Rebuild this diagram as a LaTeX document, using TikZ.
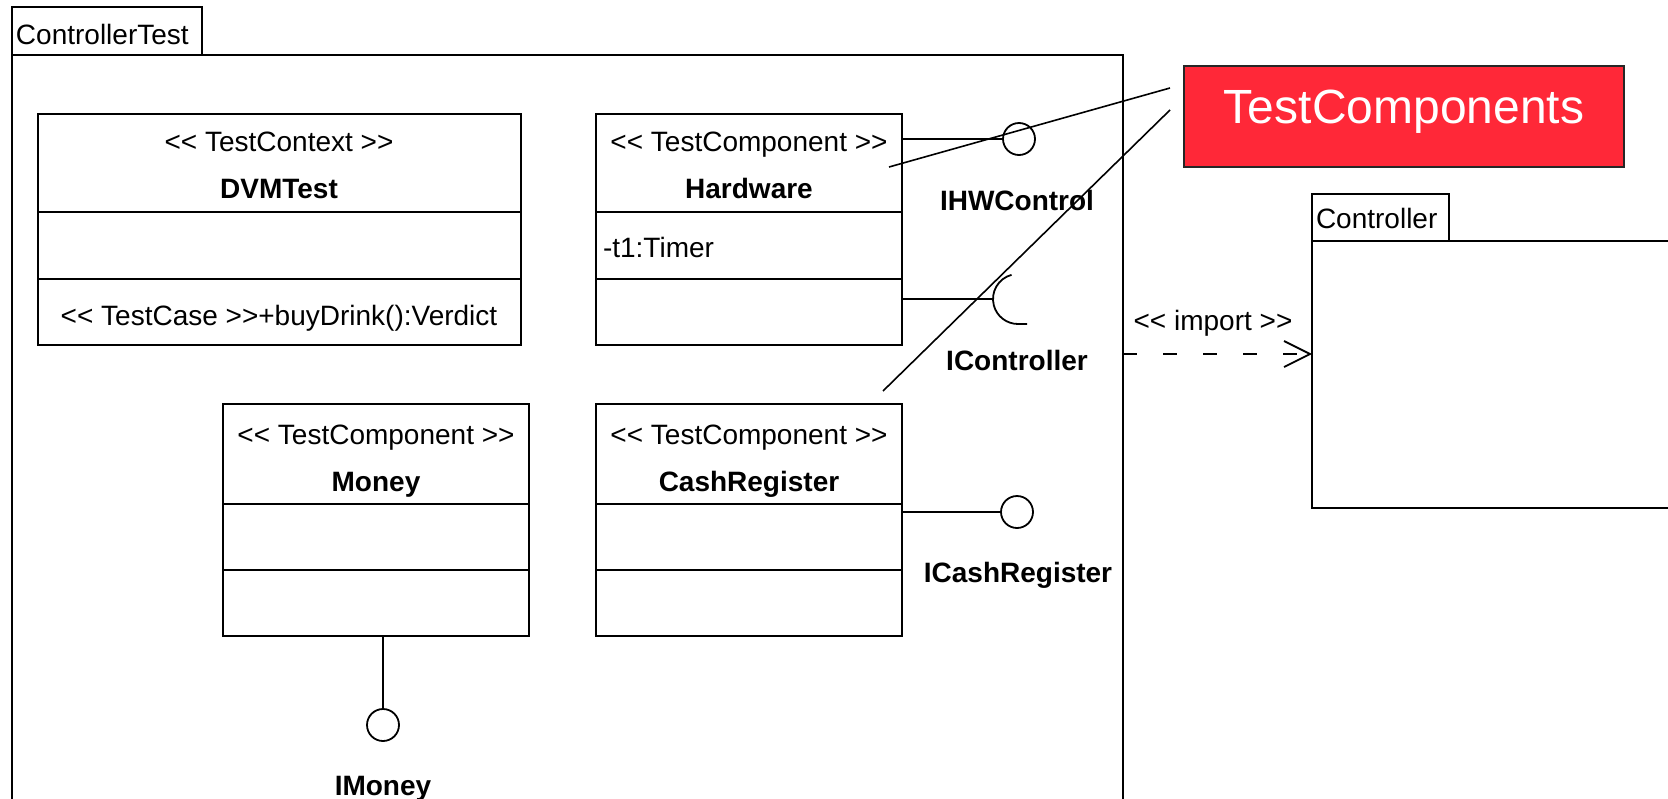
\documentclass[tikz,border=0pt]{standalone}
\usepackage{fontspec}
\setmainfont{Liberation Sans}
\usetikzlibrary{arrows.meta}
\definecolor{tcred}{RGB}{255,40,56}
\newcommand\umlopen{<\kern0pt<}
\newcommand\umlclose{>\kern0pt>}
\begin{document}
\begin{tikzpicture}[x=1pt,y=-1pt,
  every node/.style={inner sep=0pt, outer sep=0pt},
  txt/.style={font=\fontsize{28}{34}\selectfont, anchor=base},
  btxt/.style={font=\fontsize{28}{34}\selectfont\bfseries, anchor=base},
  classbox/.style={draw, line width=2pt, rectangle, anchor=north west},
  pkgline/.style={draw, line width=2pt},
  lolli/.style={draw, circle, line width=1.8pt, minimum size=32pt},
  conn/.style={line width=2pt},
  callout/.style={line width=1.6pt},
]
\useasboundingbox (0,0) rectangle (1668,798);
\clip (0,0) rectangle (1668,798);

% ControllerTest package
\node[classbox, minimum width=190, minimum height=48] (cttab) at (12,7) {};
\node[txt, anchor=base west] (cttabtxt) at (16,44) {ControllerTest};
\coordinate (ctbl) at (12,820);
\coordinate (cttl) at (12,55);
\coordinate (cttr) at (1123,55);
\coordinate (ctbr) at (1123,820);
\draw[pkgline] (ctbl) -- (cttl) -- (cttr) -- (ctbr);

% Controller package
\node[classbox, minimum width=137, minimum height=47] (ctrltab) at (1312,194) {};
\node[txt, anchor=base west] (ctrltabtxt) at (1316,228) {Controller};
\coordinate (crtr) at (1700,241);
\coordinate (crtl) at (1312,241);
\coordinate (crbl) at (1312,508);
\coordinate (crbr) at (1700,508);
\draw[pkgline] (crtr) -- (crtl) -- (crbl) -- (crbr);

% DVMTest
\node[classbox, minimum width=483, minimum height=231] (dvm) at (38,114) {};
\draw[conn] (dvm.west |- 0,212) -- (dvm.east |- 0,212);
\draw[conn] (dvm.west |- 0,279) -- (dvm.east |- 0,279);
\node[txt] (dvmst) at (279,151) {\umlopen{} TestContext \umlclose};
\node[btxt] (dvmname) at (279,198) {DVMTest};
\node[txt] (dvmop) at (279,325) {\umlopen{} TestCase \umlclose+buyDrink():Verdict};

% Hardware
\node[classbox, minimum width=306, minimum height=231] (hw) at (596,114) {};
\draw[conn] (hw.west |- 0,212) -- (hw.east |- 0,212);
\draw[conn] (hw.west |- 0,279) -- (hw.east |- 0,279);
\node[txt] (hwst) at (749,151) {\umlopen{} TestComponent \umlclose};
\node[btxt] (hwname) at (749,198) {Hardware};
\node[txt, anchor=base west] (hwattr) at (603,257) {-t1:Timer};

% Money
\node[classbox, minimum width=306, minimum height=232] (money) at (223,404) {};
\draw[conn] (money.west |- 0,504) -- (money.east |- 0,504);
\draw[conn] (money.west |- 0,570) -- (money.east |- 0,570);
\node[txt] (moneyst) at (376,444) {\umlopen{} TestComponent \umlclose};
\node[btxt] (moneyname) at (376,491) {Money};

% CashRegister
\node[classbox, minimum width=306, minimum height=232] (cash) at (596,404) {};
\draw[conn] (cash.west |- 0,504) -- (cash.east |- 0,504);
\draw[conn] (cash.west |- 0,570) -- (cash.east |- 0,570);
\node[txt] (cashst) at (749,444) {\umlopen{} TestComponent \umlclose};
\node[btxt] (cashname) at (749,491) {CashRegister};

% IHWControl
\node[lolli] (ihw) at (1019,139) {};
\draw[conn] (hw.east |- ihw) -- (ihw.west);
\node[btxt] (ihwl) at (1017,210) {IHWControl};

% IController (required interface)
\coordinate (sockc) at (1018,299);
\coordinate (sockl) at (993,299);
\draw[conn] (hw.east |- sockc) -- (sockl);
\draw[line width=1.8pt] (sockc) ++(105:25pt) arc[start angle=105, end angle=270, radius=25pt] -- ++(9pt,0pt);
\node[btxt] (ictrll) at (1017,370) {IController};

% ICashRegister
\node[lolli] (icash) at (1017,512) {};
\draw[conn] (cash.east |- icash) -- (icash.west);
\node[btxt] (icashl) at (1018,582) {ICashRegister};

% IMoney
\node[lolli] (imoney) at (383,725) {};
\draw[conn] (money.south -| imoney) -- (imoney.north);
\node[btxt] (imoneyl) at (383,795) {IMoney};

% import dependency
\coordinate (imps) at (1123,354);
\coordinate (impe) at (1312,354);
\draw[conn, dash pattern=on 14pt off 26pt, -{Straight Barb[length=26pt, width=26pt, line width=1.8pt]}] (imps) -- (impe);
\node[txt] (impl) at (1213,330) {\umlopen{} import \umlclose};

% TestComponents callout
\node[fill=tcred, draw=black!85, line width=1.6pt, minimum width=440, minimum height=101, anchor=north west] (tc) at (1184,66) {};
\node[font=\fontsize{48}{56}\selectfont, text=white, anchor=base] (tctxt) at (1404,123) {TestComponents};
\coordinate (co1s) at (889,167);
\coordinate (co1e) at (1170,88);
\coordinate (co2s) at (883,391);
\coordinate (co2e) at (1170,110);
\draw[callout] (co1s) -- (co1e);
\draw[callout] (co2s) -- (co2e);
\end{tikzpicture}
\end{document}
